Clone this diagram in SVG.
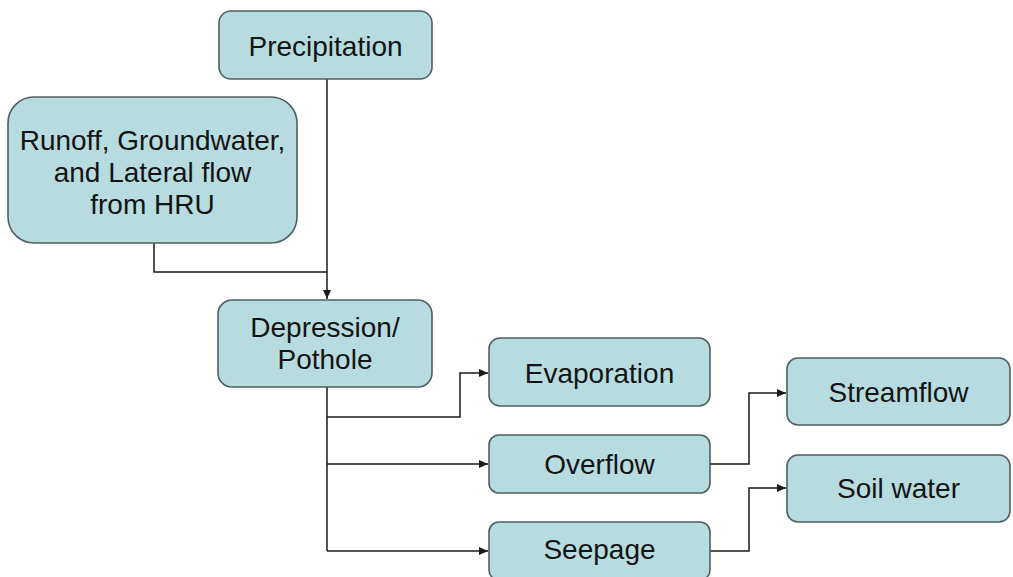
<svg xmlns="http://www.w3.org/2000/svg" width="1013" height="577" viewBox="0 0 1013 577">
  <style>
    .box { fill: #b7dcdf; stroke: #4f5f60; stroke-width: 1.6; }
    .lbl { font-family: "Liberation Sans", Arial, sans-serif; font-size: 28px; fill: #141414; text-anchor: middle; }
    .wire { fill: none; stroke: #1a1a1a; stroke-width: 1.5; }
  </style>
  <defs>
    <marker id="arrow" markerUnits="userSpaceOnUse" markerWidth="10" markerHeight="8" refX="9" refY="4" orient="auto">
      <path d="M0,0 L9,4 L0,8 Z" fill="#1a1a1a"/>
    </marker>
  </defs>
  <rect width="1013" height="577" fill="#ffffff"/>

  <!-- connectors -->
  <g id="connectors">
    <path class="wire" d="M327,79 V299" marker-end="url(#arrow)"/>
    <path class="wire" d="M154,243 V272 H327"/>
    <path class="wire" d="M327,387 V551"/>
    <path class="wire" d="M327,417 H460 V373 H488" marker-end="url(#arrow)"/>
    <path class="wire" d="M327,464 H488" marker-end="url(#arrow)"/>
    <path class="wire" d="M327,551 H488" marker-end="url(#arrow)"/>
    <path class="wire" d="M710,464 H749 V393 H786" marker-end="url(#arrow)"/>
    <path class="wire" d="M710,551 H749 V488 H786" marker-end="url(#arrow)"/>
  </g>

  <g id="precipitation">
    <rect class="box" x="219" y="11" width="213" height="68" rx="12"/>
    <text class="lbl" x="325.5" y="56">Precipitation</text>
  </g>

  <g id="runoff">
    <rect class="box" x="8" y="97" width="289" height="146" rx="26"/>
    <text class="lbl" x="152.5" y="150">Runoff, Groundwater,</text>
    <text class="lbl" x="152.5" y="182">and Lateral flow</text>
    <text class="lbl" x="152.5" y="214">from HRU</text>
  </g>

  <g id="depression">
    <rect class="box" x="218" y="300" width="214" height="87" rx="14"/>
    <text class="lbl" x="325" y="337">Depression/</text>
    <text class="lbl" x="325" y="369">Pothole</text>
  </g>

  <g id="evaporation">
    <rect class="box" x="489" y="338" width="221" height="68" rx="11"/>
    <text class="lbl" x="599.5" y="383">Evaporation</text>
  </g>

  <g id="overflow">
    <rect class="box" x="489" y="435" width="221" height="58" rx="10"/>
    <text class="lbl" x="599.5" y="474">Overflow</text>
  </g>

  <g id="seepage">
    <rect class="box" x="489" y="522" width="221" height="58" rx="10"/>
    <text class="lbl" x="599.5" y="559">Seepage</text>
  </g>

  <g id="streamflow">
    <rect class="box" x="787" y="358" width="223" height="67" rx="11"/>
    <text class="lbl" x="898.5" y="402">Streamflow</text>
  </g>

  <g id="soilwater">
    <rect class="box" x="787" y="455" width="223" height="67" rx="11"/>
    <text class="lbl" x="898.5" y="498">Soil water</text>
  </g>
</svg>
